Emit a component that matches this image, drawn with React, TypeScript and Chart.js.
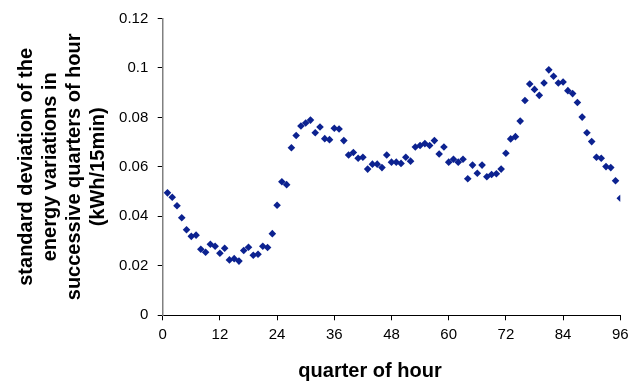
import React, { useEffect, useRef } from "react";
import { Chart, registerables } from "chart.js";

Chart.register(...registerables);

const quarters = [
  1, 2, 3, 4, 5, 6, 7, 8, 9, 10, 11, 12, 13, 14, 15, 16, 17, 18, 19, 20, 21, 22, 23, 24,
  25, 26, 27, 28, 29, 30, 31, 32, 33, 34, 35, 36, 37, 38, 39, 40, 41, 42, 43, 44, 45, 46, 47, 48,
  49, 50, 51, 52, 53, 54, 55, 56, 57, 58, 59, 60, 61, 62, 63, 64, 65, 66, 67, 68, 69, 70, 71, 72,
  73, 74, 75, 76, 77, 78, 79, 80, 81, 82, 83, 84, 85, 86, 87, 88, 89, 90, 91, 92, 93, 94, 95, 96,
];

const stdDev = [
  0.0495, 0.0477, 0.0443, 0.0394, 0.0346, 0.0319, 0.0324, 0.0267, 0.0255, 0.0287, 0.0279, 0.0251,
  0.0271, 0.0224, 0.0229, 0.0219, 0.0262, 0.0275, 0.0243, 0.0247, 0.0279, 0.0274, 0.033, 0.0445,
  0.054, 0.0528, 0.0677, 0.0727, 0.0765, 0.0777, 0.0789, 0.0738, 0.0761, 0.0714, 0.071, 0.0756,
  0.0753, 0.0706, 0.0648, 0.0658, 0.0635, 0.0639, 0.0591, 0.0611, 0.0611, 0.0597, 0.0648, 0.0619,
  0.0619, 0.0614, 0.0639, 0.0623, 0.068, 0.0686, 0.0694, 0.0686, 0.0706, 0.0652, 0.068, 0.0619,
  0.0631, 0.0619, 0.0631, 0.0552, 0.0607, 0.0574, 0.0607, 0.056, 0.0569, 0.0572, 0.0591, 0.0655,
  0.0713, 0.0722, 0.0785, 0.0868, 0.0935, 0.0913, 0.0889, 0.0939, 0.0992, 0.0966, 0.0939, 0.0943,
  0.0908, 0.0896, 0.086, 0.0801, 0.0738, 0.0702, 0.0639, 0.0635, 0.0601, 0.0597, 0.0544, 0.0473,
];

const xTickLabels = ["0", "12", "24", "36", "48", "60", "72", "84", "96"];
const yTickLabels = ["0", "0.02", "0.04", "0.06", "0.08", "0.1", "0.12"];
const yTitleLines = [
  "standard deviation of the",
  "energy variations in",
  "successive quarters of hour",
  "(kWh/15min)",
];
const xTitle = "quarter of hour";

const FONT = "'Liberation Sans', Arial, sans-serif";
const MARKER = "#0c2290";

export default function App() {
  const ref = useRef<HTMLCanvasElement | null>(null);

  useEffect(() => {
    document.body.style.margin = "0";
    const canvas = ref.current;
    if (!canvas) return;

    const xTitlePlugin = {
      id: "xTitlePlugin",
      afterDraw(chart: any) {
        const ctx = chart.ctx;
        ctx.save();
        ctx.font = `bold 20px ${FONT}`;
        ctx.fillStyle = "#000";
        ctx.textAlign = "center";
        ctx.textBaseline = "alphabetic";
        ctx.fillText(xTitle, 370, 377);
        ctx.restore();
      },
    };

    const chart = new Chart(canvas, {
      type: "scatter",
      data: {
        datasets: [
          {
            data: quarters.map((q, i) => ({ x: q, y: stdDev[i] })),
            pointStyle: "rectRot",
            pointRadius: 3.8,
            pointBorderWidth: 0,
            backgroundColor: MARKER,
            borderColor: MARKER,
            showLine: false,
          },
        ],
      },
      options: {
        animation: false,
        responsive: false,
        layout: { padding: { left: 0, right: 19.7, top: 11.7, bottom: 0 } },
        plugins: {
          legend: { display: false },
          tooltip: { enabled: false },
        },
        scales: {
          x: {
            type: "linear",
            min: 0,
            max: 96,
            afterFit(scale: any) {
              scale.height = 67.7;
            },
            ticks: {
              stepSize: 12,
              padding: 5.5,
              color: "#000",
              font: { family: FONT, size: 15 },
              maxRotation: 0,
              callback: (value: any) => {
                const s = String(value);
                return xTickLabels.includes(s) ? s : "";
              },
            },
            grid: {
              drawOnChartArea: false,
              drawTicks: true,
              tickLength: 5,
              color: "#000",
            },
            border: { display: true, color: "#000", width: 1 },
          },
          y: {
            type: "linear",
            min: 0,
            max: 0.12,
            afterFit(scale: any) {
              scale.width = 162.7;
            },
            ticks: {
              stepSize: 0.02,
              padding: 9.4,
              color: "#000",
              font: { family: FONT, size: 15 },
              callback: (value: any) => {
                const v = Number(value);
                const found = yTickLabels.find((l) => Math.abs(Number(l) - v) < 1e-9);
                return found ?? "";
              },
            },
            grid: {
              drawOnChartArea: false,
              drawTicks: true,
              tickLength: 5,
              color: "#000",
            },
            border: { display: true, color: "#808080", width: 1.5 },
            title: {
              display: true,
              text: yTitleLines,
              color: "#000",
              font: { family: FONT, size: 20, weight: "bold", lineHeight: 1.2 },
              padding: { top: 14, bottom: 0 },
            },
          },
        },
      },
      plugins: [xTitlePlugin],
    });

    return () => chart.destroy();
  }, []);

  return (
    <div style={{ position: "relative", width: 640, height: 383 }}>
      <canvas ref={ref} width={640} height={383} />
    </div>
  );
}
